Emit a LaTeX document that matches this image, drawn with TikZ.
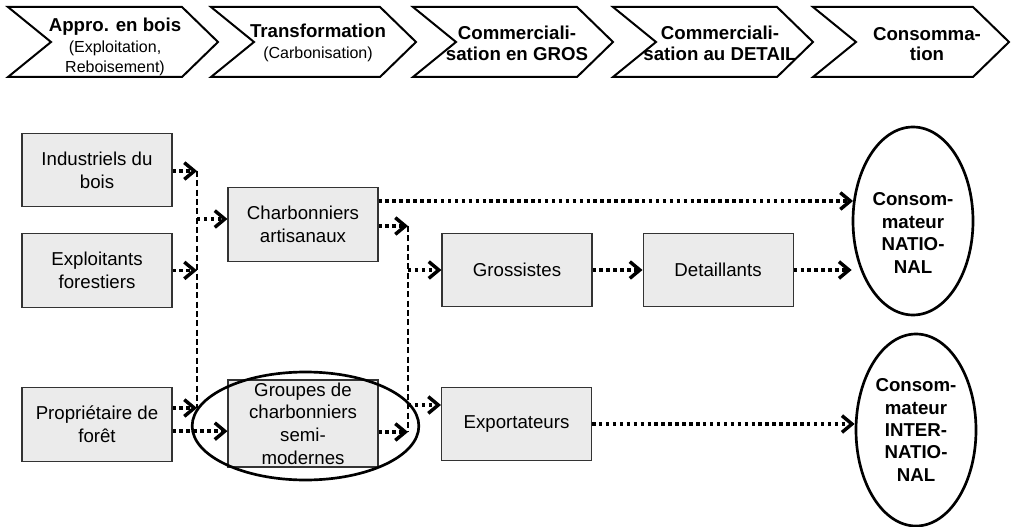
\documentclass[tikz,border=0pt]{standalone}
\usepackage{fontspec}
\setmainfont{Liberation Sans}
\usetikzlibrary{arrows.meta,shapes.geometric,positioning}
\definecolor{boxgray}{HTML}{EBEBEB}
\newcommand{\subtxt}{\fontsize{12}{15.5}\selectfont}

\begin{document}
\begin{tikzpicture}[
x=0.75pt, y=-0.75pt,
font=\fontsize{14}{17}\selectfont,
stage/.style={draw=black, line width=1.5pt, fill=white, line join=miter},
stagetxt/.style={align=center, inner sep=0pt, font=\fontsize{14}{15.5}\selectfont},
actor/.style={draw=black!80, line width=0.8pt, fill=boxgray, minimum width=112.5pt, minimum height=55pt, align=center, inner sep=2pt},
cons/.style={draw, line width=2pt, ellipse, inner sep=0pt, minimum width=90pt, minimum height=141pt, align=center, font=\fontsize{14}{16.8}\selectfont\bfseries},
flux/.style={line width=2.8pt, dash pattern=on 2.6pt off 2.6pt, -{Straight Barb[length=7.5pt, width=12.5pt, line width=2.6pt]}},
bus/.style={line width=1.5pt, dash pattern=on 4.5pt off 2.5pt},
]
\useasboundingbox (0,0) rectangle (1013,527);

% chaine de valeur
\foreach \l/\r in {8/182, 211/380, 413/577, 613/777, 813/973}
  \draw[stage] (\l,7) -- (\r,7) -- (\r+36,42) -- (\r,77) -- (\l,77) -- (\l+43,42) -- cycle;
\node[stagetxt] (s1) at (115,47) {\textbf{Appro. en bois}\\\subtxt (Exploitation,\\\subtxt Reboisement)};
\node[stagetxt] (s2) at (318,43) {\textbf{Transformation}\\\subtxt (Carbonisation)};
\node[stagetxt, font=\fontsize{14}{15.5}\selectfont\bfseries] (s3) at (517,43) {Commerciali-\\sation en GROS};
\node[stagetxt, font=\fontsize{14}{15.5}\selectfont\bfseries] (s4) at (720,43) {Commerciali-\\sation au DETAIL};
\node[stagetxt, font=\fontsize{14}{15.5}\selectfont\bfseries] (s5) at (927,44) {Consomma-\\tion};

% acteurs
\node[actor] (indus) at (97,170) {Industriels du\\bois};
\node[actor, below=19.5pt of indus] (exploit) {Exploitants\\forestiers};
\node[actor] (propr) at (97,424.5) {Propriétaire de\\forêt};
\node[actor] (charb) at (303,224.5) {Charbonniers\\artisanaux};
\node[actor, minimum height=65pt] (groupes) at (303,423.5) {Groupes de\\charbonniers\\semi-\\modernes};
\node[actor] (gross) at (517,270) {Grossistes};
\node[actor, right=37.5pt of gross] (detail) {Detaillants};
\node[actor] (export) at (516.5,424) {Exportateurs};
\node[cons] (nat) at (913,221) {};
\node[align=center, inner sep=0pt, font=\fontsize{14}{16.8}\selectfont\bfseries] (nattxt) at (913,233) {Consom-\\mateur\\NATIO-\\NAL};
\node[cons, minimum height=144pt] (inter) at (916,430) {Consom-\\mateur\\INTER-\\NATIO-\\NAL};
\node[draw, ellipse, line width=2pt, minimum width=170pt, minimum height=81pt] (ring) at (305.5,426) {};

% bus
\coordinate (busAtop) at (197,171);
\coordinate (busAmid) at (197,219);
\coordinate (busAbot) at (197,408);
\coordinate (busBtop) at (408,226);
\coordinate (busBmid) at (408,405);
\coordinate (busBbot) at (408,432);
\coordinate (topline) at (853,201);
\draw[bus] (busAtop) -- (busAbot);
\draw[bus] (busBtop) -- (busBbot);

% flux
\draw[flux] (indus.east |- busAtop) -- (busAtop);
\draw[flux] (exploit.east) -- (exploit.east -| busAtop);
\draw[flux] (propr.east |- busAbot) -- (busAbot);
\draw[flux] ([yshift=-5pt]propr.east) -- ([yshift=-5pt]propr.east -| groupes.west);
\draw[flux] (busAmid) -- (busAmid -| charb.west);
\draw[flux] (charb.east |- busBtop) -- (busBtop);
\draw[flux] (groupes.east |- busBbot) -- (busBbot);
\draw[flux] (busBtop |- gross.west) -- (gross.west);
\draw[flux] (busBmid) -- (busBmid -| export.west);
\draw[flux] (charb.east |- topline) -- (topline);
\draw[flux] (gross) -- (detail);
\draw[flux] (detail.east) -- (detail.east -| nat.west);
\draw[flux] (export.east) -- (export.east -| inter.west);
\end{tikzpicture}
\end{document}
